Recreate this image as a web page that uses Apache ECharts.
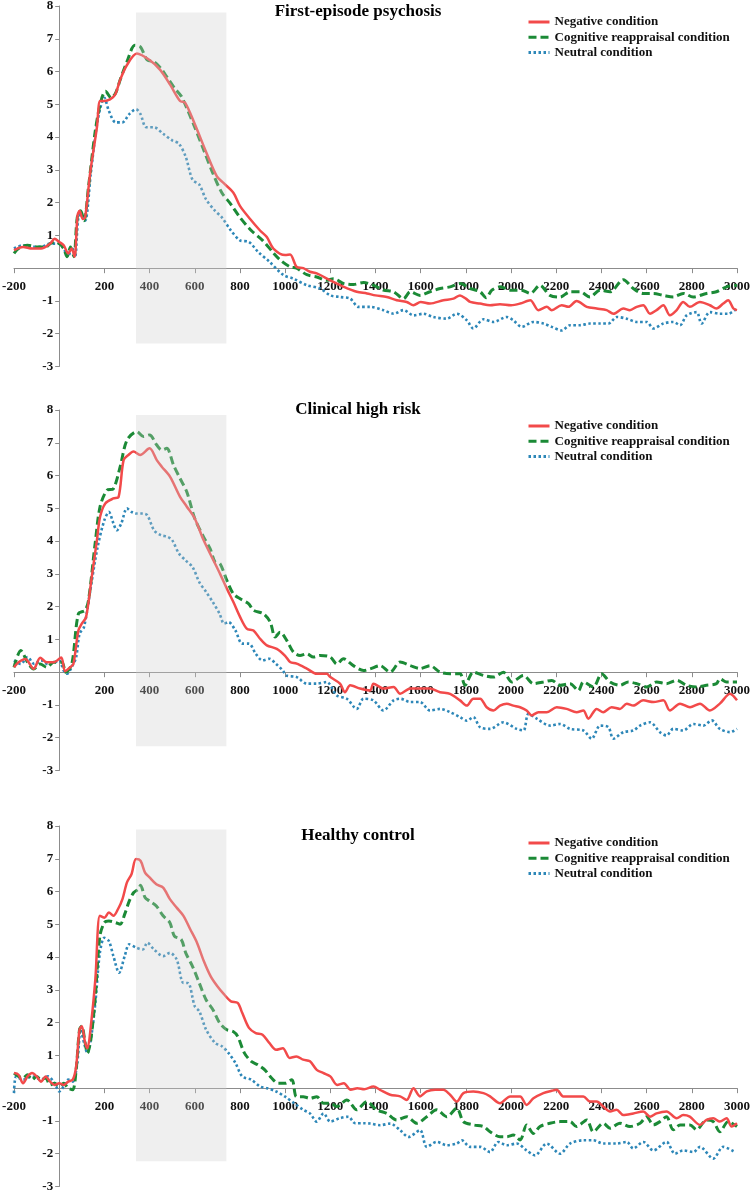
<!DOCTYPE html>
<html><head><meta charset="utf-8">
<script src="https://cdn.jsdelivr.net/npm/echarts@6/dist/echarts.min.js"></script>
<style>html,body{margin:0;padding:0;background:#fff}#c{width:751px;height:1194px}</style>
</head><body><div id="c"></div>
<script>
const panelTitles = ['First-episode psychosis', 'Clinical high risk', 'Healthy control'];
const conditionNames = ['Negative condition', 'Cognitive reappraisal condition', 'Neutral condition'];
const xRange = [-200, 3000];
const yRange = [-3, 8];
const shadedWindow = [340, 740];
const shadedRanges = [[-2.3, 7.8], [-2.26, 7.85], [-2.23, 7.89]];

// Panel 1: First-episode psychosis  [time ms, amplitude µV]
const fepNegative = [[-200,0.55],[-160,0.65],[-120,0.6],[-80,0.6],[-40,0.75],[-20,0.9],[0,0.8],[20,0.7],[40,0.45],[55,0.6],[68,0.35],[81,1.6],[90,1.75],[105,1.5],[115,1.55],[137,2.9],[167,4.3],[181,5.1],[199,5.1],[225,5.15],[248,5.3],[270,5.75],[300,6.2],[344,6.55],[400,6.35],[447,6.05],[491,5.6],[535,5.1],[557,5.05],[600,4.4],[653,3.5],[698,2.8],[727,2.6],[771,2.3],[800,1.9],[845,1.5],[889,1.15],[919,0.95],[948,0.6],[1000,0.4],[1022,0.42],[1051,0.04],[1080,0.0],[1110,-0.11],[1140,-0.16],[1200,-0.37],[1260,-0.57],[1317,-0.72],[1362,-0.77],[1400,-0.83],[1450,-0.88],[1494,-0.98],[1538,-1.03],[1568,-1.13],[1600,-1.03],[1641,-1.08],[1700,-0.98],[1745,-0.93],[1774,-0.83],[1800,-0.93],[1819,-1.03],[1863,-1.08],[1907,-1.13],[1951,-1.1],[2000,-1.13],[2040,-1.08],[2085,-0.98],[2121,-1.28],[2158,-1.18],[2180,-1.28],[2224,-1.13],[2254,-1.18],[2290,-1.0],[2335,-1.18],[2379,-1.23],[2423,-1.28],[2453,-1.39],[2497,-1.23],[2526,-1.28],[2556,-1.18],[2585,-1.13],[2615,-1.39],[2644,-1.28],[2674,-1.13],[2703,-1.44],[2733,-1.28],[2762,-1.03],[2791,-1.18],[2836,-1.03],[2880,-1.13],[2909,-1.23],[2939,-1.08],[2961,-0.98],[2984,-1.23],[3000,-1.28]];
const fepReappraisal = [[-200,0.45],[-180,0.6],[-140,0.7],[-100,0.65],[-60,0.65],[-40,0.75],[-20,0.8],[0,0.75],[20,0.6],[35,0.35],[50,0.65],[65,0.35],[80,1.55],[95,1.75],[110,1.45],[130,2.5],[160,4.2],[185,5.1],[205,5.4],[230,5.2],[250,5.35],[270,5.75],[300,6.3],[335,6.8],[360,6.75],[390,6.35],[420,6.3],[450,6.1],[480,5.8],[510,5.5],[540,5.25],[570,4.8],[600,4.3],[640,3.6],[680,2.9],[720,2.3],[760,1.95],[800,1.55],[850,1.15],[900,0.85],[950,0.45],[978,0.25],[1022,0.04],[1051,0.0],[1096,-0.2],[1140,-0.27],[1184,-0.37],[1214,-0.32],[1260,-0.47],[1302,-0.5],[1347,-0.44],[1391,-0.52],[1435,-0.67],[1480,-0.72],[1524,-0.93],[1554,-0.72],[1597,-0.83],[1641,-0.72],[1686,-0.62],[1730,-0.57],[1774,-0.47],[1819,-0.62],[1863,-0.72],[1890,-0.9],[1915,-0.67],[1951,-0.57],[2000,-0.67],[2047,-0.67],[2085,-0.77],[2128,-0.52],[2172,-0.83],[2217,-0.88],[2261,-0.72],[2305,-0.72],[2349,-0.88],[2394,-0.67],[2438,-0.72],[2497,-0.35],[2541,-0.62],[2585,-0.77],[2630,-0.77],[2674,-0.83],[2718,-0.88],[2762,-0.77],[2806,-0.88],[2865,-0.77],[2909,-0.72],[2954,-0.57],[3000,-0.52]];
const fepNeutral = [[-200,0.6],[-160,0.7],[-120,0.65],[-80,0.65],[-40,0.75],[0,0.75],[20,0.6],[40,0.35],[55,0.65],[70,0.35],[85,1.55],[100,1.65],[115,1.45],[140,2.9],[170,4.5],[200,5.2],[220,4.8],[250,4.45],[280,4.45],[310,4.7],[340,4.85],[360,4.7],[385,4.3],[420,4.3],[460,4.1],[500,3.9],[530,3.8],[560,3.4],[590,2.7],[620,2.55],[650,2.1],[690,1.75],[720,1.55],[760,1.15],[800,0.85],[840,0.8],[880,0.5],[930,0.2],[993,-0.21],[1037,-0.32],[1096,-0.52],[1155,-0.62],[1200,-0.83],[1243,-0.88],[1288,-0.93],[1325,-1.18],[1376,-1.18],[1435,-1.28],[1480,-1.39],[1524,-1.28],[1568,-1.44],[1612,-1.39],[1656,-1.49],[1715,-1.54],[1760,-1.39],[1804,-1.59],[1833,-1.84],[1878,-1.56],[1922,-1.64],[1981,-1.49],[2010,-1.59],[2047,-1.79],[2099,-1.64],[2143,-1.69],[2180,-1.79],[2224,-1.9],[2261,-1.74],[2305,-1.74],[2349,-1.69],[2394,-1.69],[2431,-1.69],[2468,-1.49],[2512,-1.54],[2556,-1.64],[2600,-1.64],[2630,-1.84],[2674,-1.69],[2718,-1.64],[2748,-1.74],[2777,-1.44],[2821,-1.34],[2843,-1.69],[2880,-1.34],[2924,-1.39],[2961,-1.39],[3000,-1.23]];

// Panel 2: Clinical high risk
const chrNegative = [[-200,0.15],[-180,0.3],[-150,0.4],[-113,0.1],[-84,0.44],[-55,0.3],[-25,0.3],[9,0.45],[26,0.03],[49,0.15],[63,0.25],[85,1.27],[100,1.48],[119,1.68],[144,2.9],[167,4.03],[181,4.74],[204,5.15],[240,5.3],[263,5.35],[285,6.47],[307,6.63],[329,6.73],[358,6.63],[400,6.83],[432,6.47],[454,6.27],[491,5.96],[535,5.35],[565,5.05],[600,4.69],[639,4.03],[683,3.41],[712,3.0],[742,2.55],[771,2.14],[801,1.68],[830,1.33],[860,1.27],[889,1.02],[919,0.82],[963,0.71],[1000,0.5],[1022,0.31],[1051,0.26],[1096,0.11],[1140,-0.05],[1184,-0.05],[1200,-0.15],[1243,-0.35],[1265,-0.61],[1288,-0.4],[1332,-0.5],[1376,-0.56],[1391,-0.35],[1435,-0.5],[1480,-0.45],[1509,-0.66],[1554,-0.5],[1597,-0.5],[1641,-0.5],[1686,-0.61],[1730,-0.66],[1774,-0.86],[1804,-1.02],[1833,-0.81],[1863,-0.81],[1892,-1.07],[1922,-1.17],[1951,-1.02],[1981,-0.96],[2010,-1.02],[2040,-1.07],[2069,-1.17],[2091,-1.32],[2121,-1.22],[2158,-1.22],[2202,-1.07],[2246,-1.12],[2290,-1.22],[2320,-1.17],[2342,-1.42],[2379,-1.12],[2408,-1.22],[2445,-1.07],[2482,-1.12],[2512,-0.96],[2541,-1.02],[2585,-0.86],[2630,-0.91],[2674,-0.86],[2703,-1.17],[2748,-0.96],[2792,-1.07],[2836,-0.96],[2880,-1.17],[2924,-0.96],[2969,-0.66],[3000,-0.86]];
const chrReappraisal = [[-200,0.15],[-170,0.66],[-140,0.3],[-113,0.1],[-84,0.25],[-55,0.15],[-25,0.3],[12,0.3],[29,0.0],[56,0.25],[85,1.78],[115,1.89],[130,2.2],[159,3.92],[181,5.05],[211,5.55],[240,5.6],[270,6.27],[300,7.08],[344,7.34],[373,7.19],[400,7.24],[432,6.93],[454,6.78],[476,6.83],[506,6.32],[535,5.91],[565,5.5],[600,4.69],[639,4.13],[668,3.77],[690,3.36],[712,3.31],[742,2.8],[771,2.39],[801,2.24],[838,2.09],[860,1.89],[904,1.78],[934,1.53],[956,1.07],[978,1.22],[1007,0.97],[1037,0.61],[1066,0.51],[1096,0.56],[1125,0.46],[1155,0.51],[1200,0.46],[1229,0.25],[1258,0.41],[1302,0.2],[1347,0.05],[1376,0.1],[1420,0.2],[1465,0.0],[1509,0.31],[1554,0.2],[1597,0.11],[1641,0.2],[1686,0.0],[1730,-0.05],[1774,-0.05],[1796,-0.4],[1833,0.0],[1878,-0.1],[1922,-0.15],[1966,0.0],[2003,-0.3],[2055,-0.1],[2099,-0.35],[2143,-0.3],[2180,-0.25],[2217,-0.4],[2261,-0.35],[2298,-0.56],[2320,-0.3],[2364,-0.45],[2401,-0.05],[2438,-0.3],[2482,-0.4],[2519,-0.3],[2556,-0.35],[2600,-0.45],[2644,-0.3],[2688,-0.35],[2733,-0.25],[2777,-0.4],[2821,-0.45],[2865,-0.4],[2909,-0.35],[2924,-0.2],[2954,-0.3],[3000,-0.3]];
const chrNeutral = [[-200,0.36],[-170,0.25],[-140,0.46],[-110,0.25],[-80,0.36],[-50,0.25],[-20,0.3],[0,0.36],[20,0.05],[35,-0.05],[55,0.15],[75,0.46],[90,1.17],[110,1.38],[140,2.6],[170,3.82],[200,4.64],[220,4.89],[240,4.54],[255,4.33],[275,4.54],[300,5.0],[320,4.89],[340,4.84],[370,4.84],[390,4.79],[420,4.33],[450,4.18],[480,4.13],[500,4.03],[530,3.62],[560,3.41],[590,3.21],[620,2.75],[650,2.45],[680,2.14],[710,1.78],[730,1.48],[750,1.53],[780,1.27],[810,0.87],[840,0.87],[870,0.56],[900,0.36],[930,0.41],[960,0.25],[990,0.05],[1005,-0.1],[1051,-0.15],[1096,-0.35],[1140,-0.35],[1184,-0.3],[1229,-0.71],[1273,-0.81],[1317,-1.12],[1347,-0.81],[1391,-0.86],[1435,-1.17],[1480,-0.86],[1509,-0.81],[1554,-0.91],[1597,-0.91],[1641,-1.17],[1686,-1.12],[1730,-1.22],[1774,-1.37],[1804,-1.48],[1833,-1.37],[1863,-1.68],[1907,-1.73],[1966,-1.53],[2025,-1.73],[2055,-1.78],[2077,-1.27],[2114,-1.42],[2173,-1.63],[2217,-1.58],[2261,-1.73],[2320,-1.78],[2357,-2.03],[2394,-1.63],[2431,-1.68],[2453,-2.03],[2497,-1.83],[2541,-1.78],[2571,-1.63],[2615,-1.53],[2659,-1.83],[2688,-1.93],[2718,-1.73],[2762,-1.78],[2807,-1.58],[2851,-1.63],[2888,-1.47],[2924,-1.73],[2969,-1.83],[3000,-1.73]];

// Panel 3: Healthy control
const hcNegative = [[-200,0.46],[-180,0.41],[-160,0.15],[-140,0.36],[-120,0.46],[-100,0.36],[-80,0.2],[-60,0.36],[-40,0.2],[-20,0.1],[0,0.15],[20,0.1],[40,0.2],[60,0.26],[75,0.66],[90,1.79],[100,1.89],[115,1.38],[125,1.22],[140,1.89],[160,3.32],[180,5.26],[200,5.2],[220,5.36],[240,5.26],[260,5.46],[280,5.77],[300,6.28],[320,6.53],[340,6.99],[360,6.94],[380,6.58],[400,6.43],[430,6.22],[460,6.12],[490,5.77],[520,5.51],[550,5.26],[580,4.85],[610,4.44],[640,3.88],[670,3.42],[700,3.11],[730,2.86],[760,2.65],[790,2.6],[810,2.3],[840,1.84],[870,1.68],[900,1.63],[930,1.38],[960,1.17],[990,1.22],[1020,0.92],[1050,0.97],[1080,0.87],[1110,0.82],[1140,0.56],[1170,0.46],[1200,0.36],[1230,0.1],[1260,0.15],[1290,-0.05],[1320,0.0],[1350,-0.03],[1391,0.05],[1420,-0.05],[1465,-0.2],[1509,-0.25],[1538,-0.36],[1568,0.0],[1597,-0.25],[1627,-0.1],[1664,-0.05],[1700,-0.05],[1730,-0.2],[1760,-0.41],[1789,-0.15],[1833,-0.1],[1878,-0.15],[1907,-0.25],[1951,-0.46],[1996,-0.25],[2040,-0.25],[2069,-0.51],[2099,-0.31],[2143,-0.15],[2180,-0.08],[2202,-0.05],[2231,-0.25],[2276,-0.25],[2320,-0.25],[2349,-0.41],[2379,-0.41],[2408,-0.56],[2438,-0.71],[2467,-0.66],[2497,-0.82],[2541,-0.77],[2585,-0.71],[2615,-0.87],[2644,-0.77],[2688,-0.71],[2733,-0.92],[2762,-0.82],[2791,-0.87],[2836,-1.12],[2865,-0.97],[2895,-0.92],[2924,-1.02],[2954,-0.92],[2976,-1.17],[3000,-1.07]];
const hcReappraisal = [[-200,0.46],[-180,0.36],[-160,0.31],[-140,0.41],[-120,0.26],[-100,0.36],[-80,0.26],[-60,0.31],[-40,0.1],[-20,0.15],[0,0.05],[20,0.15],[40,0.0],[60,-0.05],[75,0.56],[90,1.79],[100,1.89],[115,1.38],[125,1.07],[140,1.48],[160,2.81],[180,4.64],[200,5.05],[220,5.1],[250,5.05],[270,5.0],[290,5.31],[310,5.71],[330,5.97],[350,6.07],[360,6.19],[380,5.82],[400,5.71],[430,5.56],[460,5.26],[490,5.05],[510,4.64],[540,4.54],[560,4.13],[590,3.72],[620,3.21],[650,2.7],[680,2.4],[710,1.99],[740,1.79],[770,1.73],[790,1.58],[820,1.07],[850,0.82],[880,0.71],[910,0.56],[940,0.31],[970,0.15],[1000,0.15],[1030,0.26],[1050,-0.26],[1080,-0.26],[1110,-0.31],[1140,-0.26],[1170,-0.46],[1200,-0.46],[1230,-0.56],[1273,-0.36],[1317,-0.66],[1361,-0.41],[1405,-0.66],[1450,-0.77],[1494,-0.97],[1538,-0.87],[1583,-1.07],[1627,-0.87],[1671,-0.66],[1715,-0.87],[1760,-0.61],[1789,-1.02],[1833,-1.12],[1878,-1.17],[1907,-1.33],[1951,-1.48],[1981,-1.48],[2010,-1.43],[2040,-1.58],[2069,-1.12],[2099,-1.38],[2128,-1.17],[2172,-1.07],[2217,-1.02],[2261,-1.02],[2290,-1.17],[2335,-0.97],[2364,-1.33],[2408,-1.07],[2438,-1.22],[2482,-1.07],[2526,-1.17],[2571,-1.07],[2600,-0.87],[2630,-1.12],[2659,-1.02],[2688,-0.87],[2718,-1.27],[2748,-1.12],[2792,-1.12],[2821,-1.27],[2865,-0.97],[2895,-1.02],[2924,-1.33],[2961,-1.02],[3000,-1.17]];
const hcNeutral = [[-200,-0.15],[-190,0.36],[-160,0.26],[-120,0.36],[-80,0.26],[-50,0.36],[-20,0.15],[0,-0.1],[20,0.05],[40,0.26],[60,0.2],[80,0.77],[95,1.79],[110,1.38],[125,1.07],[140,1.48],[160,2.6],[180,4.13],[200,4.59],[220,4.49],[240,4.03],[265,3.52],[290,4.03],[310,4.39],[340,4.29],[370,4.23],[390,4.44],[420,4.23],[460,4.03],[490,4.13],[520,3.93],[550,3.21],[570,3.21],[600,2.5],[620,2.35],[650,1.79],[690,1.38],[720,1.28],[750,1.07],[780,0.77],[810,0.36],[850,0.26],[890,0.05],[920,0.0],[960,-0.1],[1000,-0.26],[1040,-0.46],[1080,-0.66],[1110,-0.77],[1140,-1.02],[1170,-0.77],[1200,-1.02],[1240,-0.92],[1280,-0.87],[1310,-1.07],[1350,-1.07],[1376,-1.08],[1420,-1.13],[1465,-1.08],[1509,-1.28],[1546,-1.49],[1597,-1.28],[1627,-1.79],[1671,-1.64],[1715,-1.74],[1759,-1.69],[1782,-1.59],[1818,-1.79],[1863,-1.79],[1907,-1.95],[1943,-1.64],[1981,-1.74],[2025,-1.69],[2069,-1.9],[2106,-2.05],[2158,-1.69],[2217,-2.0],[2261,-1.69],[2320,-1.59],[2364,-1.59],[2408,-1.69],[2467,-1.69],[2512,-1.64],[2541,-1.84],[2585,-1.64],[2630,-1.9],[2688,-1.64],[2725,-2.0],[2762,-1.9],[2807,-1.95],[2836,-1.79],[2895,-2.15],[2939,-1.79],[2991,-1.95]];

const panelData = [
  [fepNegative, fepReappraisal, fepNeutral],
  [chrNegative, chrReappraisal, chrNeutral],
  [hcNegative, hcReappraisal, hcNeutral]
];

const FONT = '"Liberation Serif", "Times New Roman", serif';
const colors = ['#f24a4a', '#1b8a36', '#2d87b8'];
const dashTypes = ['solid', [8, 4], [2.5, 2.5]];
const widths = [2.5, 3, 2.6];
const gridTops = [6, 410, 826];
const gridLeft = 14, gridRight = 14, gridHeight = 360.5;
const gridWidth = 751 - gridLeft - gridRight;
const titleYs = [12, 410, 836];
const legendTops = [15.5, 419.5, 836.5];
// offsets that place each axis on the other axis's zero value
const xAxisOffset = -gridHeight * (0 - yRange[0]) / (yRange[1] - yRange[0]);
const yAxisOffset = -gridWidth * (0 - xRange[0]) / (xRange[1] - xRange[0]);

const grids = [], xAxes = [], yAxes = [], series = [], legends = [], graphics = [];
for (let p = 0; p < 3; p++) {
  grids.push({ left: gridLeft, right: gridRight, top: gridTops[p], height: gridHeight, containLabel: false, outerBoundsMode: 'none' });
  xAxes.push({
    type: 'value', gridIndex: p, min: xRange[0], max: xRange[1], interval: 200,
    position: 'bottom', offset: xAxisOffset,
    splitLine: { show: false },
    axisLine: { onZero: false, lineStyle: { color: '#8c8c8c', width: 1 } },
    axisTick: { show: true, length: 5, inside: false, lineStyle: { color: '#8c8c8c' } },
    axisLabel: { margin: 12, color: '#111', fontSize: 13, fontWeight: 'bold', fontFamily: FONT,
      formatter: v => (v === 0 ? '' : String(v)) }
  });
  yAxes.push({
    type: 'value', gridIndex: p, min: yRange[0], max: yRange[1], interval: 1,
    position: 'left', offset: yAxisOffset,
    splitLine: { show: false },
    axisLine: { onZero: false, lineStyle: { color: '#8c8c8c', width: 1 } },
    axisTick: { show: true, length: 4, lineStyle: { color: '#8c8c8c' } },
    axisLabel: { margin: 6, color: '#111', fontSize: 13, fontWeight: 'bold', fontFamily: FONT,
      formatter: v => (v === 0 ? '' : String(v)) }
  });
  for (let s = 0; s < 3; s++) {
    const ser = {
      type: 'line', name: conditionNames[s], xAxisIndex: p, yAxisIndex: p,
      data: panelData[p][s], showSymbol: false, symbol: 'none', smooth: 0.3,
      lineStyle: { color: colors[s], width: widths[s], type: dashTypes[s] },
      itemStyle: { color: colors[s] },
      animation: false, z: 3 + (2 - s)
    };
    if (s === 2) {
      ser.markArea = {
        silent: true, z: 20,
        label: { show: false },
        itemStyle: { color: 'rgba(205,205,205,0.32)', borderWidth: 0 },
        data: [[{ xAxis: shadedWindow[0], yAxis: shadedRanges[p][1] }, { xAxis: shadedWindow[1], yAxis: shadedRanges[p][0] }]]
      };
    }
    series.push(ser);
  }
  legends.push({
    data: conditionNames, orient: 'vertical', left: 527, top: legendTops[p], padding: 0,
    itemWidth: 21, itemHeight: 10, itemGap: 2.3, selectedMode: false,
    itemStyle: { color: 'rgba(0,0,0,0)', borderColor: 'rgba(0,0,0,0)', borderWidth: 0, opacity: 0 },
    lineStyle: { width: 3 },
    textStyle: { color: '#111', fontSize: 13, fontWeight: 'bold', fontFamily: FONT, lineHeight: 13 }
  });
  graphics.push({
    type: 'text', x: 358, y: titleYs[p],
    style: { text: panelTitles[p], fill: '#000', fontSize: 17, fontWeight: 'bold', fontFamily: FONT,
      align: 'center', verticalAlign: 'middle' }
  });
}

const chart = echarts.init(document.getElementById('c'), null, { renderer: 'canvas' });
chart.setOption({
  backgroundColor: '#ffffff',
  animation: false,
  grid: grids, xAxis: xAxes, yAxis: yAxes, series: series, legend: legends, graphic: graphics
});
</script></body></html>
